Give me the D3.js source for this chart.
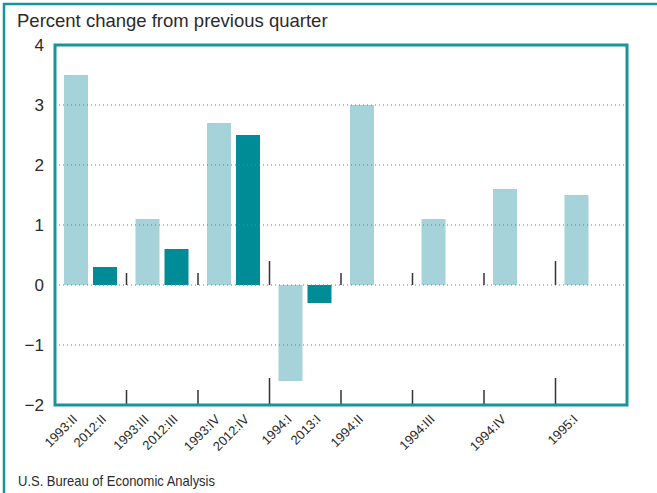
<!DOCTYPE html>
<html>
<head>
  <title>Percent change from previous quarter</title>
  <script type="text/javascript" src="https://d3js.org/d3.v7.min.js"></script>
  <style>
    body { margin: 0; background: #fff; }
    svg text { font-family: "Liberation Sans", Arial, Helvetica, sans-serif; fill: #2b2b2b; }
  </style>
</head>
<body>
  <div class="chart"></div>
  <script type="text/javascript">
    // quarters of the earlier recovery and the matching recent quarters
    const quarters = ["1993:II", "1993:III", "1993:IV", "1994:I", "1994:II", "1994:III", "1994:IV", "1995:I"];
    const earlierValues = [3.5, 1.1, 2.7, -1.6, 3.0, 1.1, 1.6, 1.5];
    const recentQuarters = ["2012:II", "2012:III", "2012:IV", "2013:I"];
    const recentValues = [0.3, 0.6, 2.5, -0.3];
    const yTicks = [-2, -1, 0, 1, 2, 3, 4];
    const gridTicks = [-1, 0, 1, 2, 3];
    const series = ["earlier", "recent"];

    const width = 657, height = 493;
    const margin = {top: 45, left: 55, bottom: 88, right: 30};
    const teal = "#008c97";
    const lightBlue = "#a5d3d9";
    const frameColor = "#17939b";

    const svg = d3.select(".chart")
      .append("svg")
      .attr("width", width)
      .attr("height", height);

    // outer frame (top and left rules)
    svg.append("path")
      .attr("d", `M4,${height} L4,4 L${width},4`)
      .attr("fill", "none")
      .attr("stroke", frameColor)
      .attr("stroke-width", 2.5);

    svg.append("text")
      .attr("x", 17)
      .attr("y", 27)
      .style("font-size", "18.5px")
      .text("Percent change from previous quarter");

    svg.append("text")
      .attr("x", 18)
      .attr("y", 486)
      .style("font-size", "14.5px")
      .attr("textLength", 197)
      .attr("lengthAdjust", "spacingAndGlyphs")
      .text("U.S. Bureau of Economic Analysis");

    const xScale = d3.scaleBand()
      .domain(quarters)
      .range([margin.left, width - margin.right]);

    const xInner = d3.scaleBand()
      .domain(series)
      .range([9, 62])
      .paddingInner(0.172);

    const yScale = d3.scaleLinear()
      .domain([-2, 4])
      .range([height - margin.bottom, margin.top]);

    const y0 = yScale(0);

    const rows = [];
    quarters.forEach((q, i) => {
      rows.push({group: q, key: "earlier", label: q, value: earlierValues[i]});
      if (i < recentValues.length) {
        rows.push({group: q, key: "recent", label: recentQuarters[i], value: recentValues[i]});
      }
    });

    svg.selectAll("rect.bar")
      .data(rows)
      .enter()
      .append("rect")
      .attr("class", "bar")
      .attr("x", d => xScale(d.group) + xInner(d.key))
      .attr("width", xInner.bandwidth())
      .attr("y", d => yScale(Math.max(0, d.value)))
      .attr("height", d => Math.abs(yScale(d.value) - y0))
      .attr("fill", d => d.key === "earlier" ? lightBlue : teal);

    // dotted grid lines over the bars
    svg.selectAll("line.grid")
      .data(gridTicks)
      .enter()
      .append("line")
      .attr("class", "grid")
      .attr("x1", margin.left)
      .attr("x2", width - margin.right)
      .attr("y1", d => yScale(d))
      .attr("y2", d => yScale(d))
      .attr("stroke", "#777")
      .attr("stroke-width", 1)
      .attr("stroke-dasharray", "1,3");

    // separators between quarters, longer where a new year starts
    const bounds = quarters.slice(1);
    const isYear = q => q.endsWith(":I");

    svg.selectAll("line.zeroTick")
      .data(bounds)
      .enter()
      .append("line")
      .attr("x1", d => xScale(d))
      .attr("x2", d => xScale(d))
      .attr("y1", y0)
      .attr("y2", d => y0 - (isYear(d) ? 24 : 12))
      .attr("stroke", "#333")
      .attr("stroke-width", 1.5);

    svg.selectAll("line.baseTick")
      .data(bounds)
      .enter()
      .append("line")
      .attr("x1", d => xScale(d))
      .attr("x2", d => xScale(d))
      .attr("y1", yScale(-2))
      .attr("y2", d => yScale(-2) - (isYear(d) ? 27 : 15))
      .attr("stroke", "#333")
      .attr("stroke-width", 1.5);

    // plot box
    svg.append("rect")
      .attr("x", margin.left)
      .attr("y", margin.top)
      .attr("width", width - margin.left - margin.right)
      .attr("height", height - margin.top - margin.bottom)
      .attr("fill", "none")
      .attr("stroke", frameColor)
      .attr("stroke-width", 3);

    const yAxis = d3.axisLeft(yScale)
      .tickValues(yTicks)
      .tickSize(0)
      .tickPadding(11)
      .tickFormat(d => d < 0 ? "\u2212" + Math.abs(d) : d);

    svg.append("g")
      .attr("class", "axis y-axis")
      .attr("transform", `translate(${margin.left},0)`)
      .call(yAxis)
      .call(g => g.select(".domain").remove())
      .selectAll("text")
      .style("font-size", "17px")
      .style("fill", "#2b2b2b");

    // rotated quarter labels under each bar
    svg.selectAll("text.xlabel")
      .data(rows)
      .enter()
      .append("text")
      .attr("class", "xlabel")
      .attr("text-anchor", "end")
      .style("font-size", "13px")
      .attr("transform", d => {
        const cx = xScale(d.group) + xInner(d.key) + xInner.bandwidth() / 2 + 2;
        return `translate(${cx},${height - margin.bottom + 15}) rotate(-45)`;
      })
      .text(d => d.label);
  </script>
</body>
</html>
